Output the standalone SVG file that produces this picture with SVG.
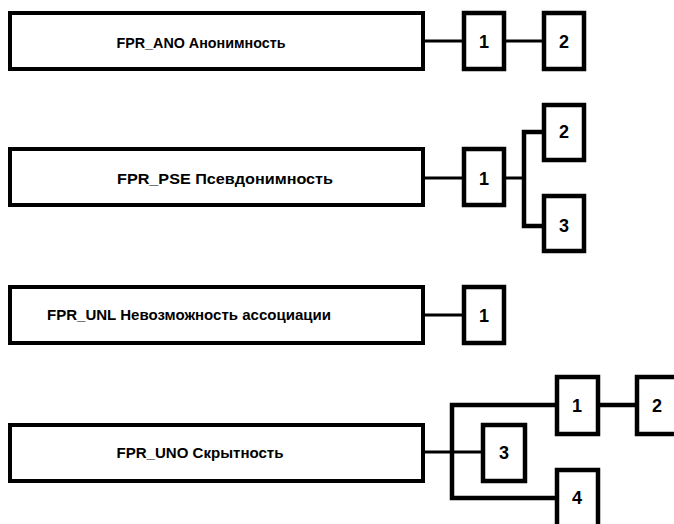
<svg xmlns="http://www.w3.org/2000/svg" width="674" height="524" viewBox="0 0 674 524">
<style>
.box{fill:#fff;stroke:#000;stroke-width:4}
.num{fill:#fff;stroke:#000;stroke-width:4.5}
.lbl{font-family:"Liberation Sans",Arial,sans-serif;font-weight:bold;font-size:15px;fill:#000;text-anchor:middle;dominant-baseline:central}
.n{font-family:"Liberation Sans",Arial,sans-serif;font-weight:bold;font-size:18px;fill:#000;text-anchor:middle;dominant-baseline:central}
.c{fill:none;stroke:#000;stroke-width:3}
.ct{fill:none;stroke:#000;stroke-width:4.5}
</style>
<rect width="674" height="524" fill="#fff"/>
<g id="connectors">
<line class="c" x1="423" y1="41" x2="462" y2="41"/>
<line class="c" x1="504" y1="41" x2="542" y2="41"/>
<line class="c" x1="423" y1="178" x2="462" y2="178"/>
<polyline class="c" points="504,178 524,178"/>
<polyline class="ct" points="542,132 524,132 524,226 542,226"/>
<line class="c" x1="423" y1="315" x2="462" y2="315"/>
<line class="c" x1="423" y1="452" x2="481" y2="452"/>
<polyline class="ct" points="555,405 452,405 452,498 555,498"/>
<line class="ct" x1="600" y1="405" x2="635" y2="405"/>
</g>
<g id="fpr_ano"><rect class="box" x="10" y="13" width="413" height="56"/><text class="lbl" x="201" y="42" textLength="169" lengthAdjust="spacingAndGlyphs">FPR_ANO Анонимность</text></g>
<g id="ano_1"><rect class="num" x="464" y="13" width="40" height="56"/><text class="n" x="484" y="42">1</text></g>
<g id="ano_2"><rect class="num" x="544" y="13" width="40" height="56"/><text class="n" x="564" y="42">2</text></g>

<g id="fpr_pse"><rect class="box" x="10" y="149" width="413" height="56"/><text class="lbl" x="225" y="178" textLength="216" lengthAdjust="spacingAndGlyphs">FPR_PSE Псевдонимность</text></g>
<g id="pse_1"><rect class="num" x="464" y="149" width="40" height="56"/><text class="n" x="484" y="179">1</text></g>
<g id="pse_2"><rect class="num" x="544" y="105" width="40" height="55"/><text class="n" x="564" y="132">2</text></g>
<g id="pse_3"><rect class="num" x="544" y="196" width="40" height="55"/><text class="n" x="564" y="226">3</text></g>

<g id="fpr_unl"><rect class="box" x="10" y="287" width="413" height="56"/><text class="lbl" x="189" y="314" textLength="284" lengthAdjust="spacingAndGlyphs">FPR_UNL Невозможность ассоциации</text></g>
<g id="unl_1"><rect class="num" x="464" y="287" width="40" height="56"/><text class="n" x="484" y="316">1</text></g>

<g id="fpr_uno"><rect class="box" x="10" y="425" width="413" height="56"/><text class="lbl" x="200" y="452" textLength="167" lengthAdjust="spacingAndGlyphs">FPR_UNO Скрытность</text></g>
<g id="uno_1"><rect class="num" x="557" y="377" width="41" height="57"/><text class="n" x="577" y="406">1</text></g>
<g id="uno_2"><rect class="num" x="637" y="377" width="41" height="57"/><text class="n" x="657" y="406">2</text></g>
<g id="uno_3"><rect class="num" x="483" y="425" width="42" height="56"/><text class="n" x="504" y="453">3</text></g>
<g id="uno_4"><rect class="num" x="557" y="470" width="41" height="60"/><text class="n" x="577" y="498">4</text></g>
</svg>
